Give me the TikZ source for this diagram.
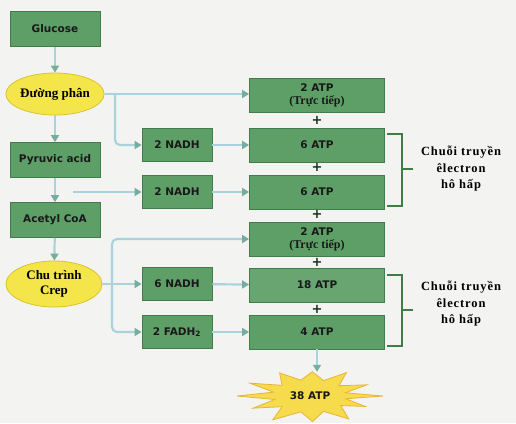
\documentclass[tikz,border=0pt]{standalone}
\usepackage{fontspec}
\setmainfont{Liberation Serif}
\newfontfamily\boxfont{DejaVu Sans}
\newfontfamily\chainfont{Liberation Serif}[LetterSpace=7]
\usetikzlibrary{arrows.meta,shapes.geometric}
\definecolor{paper}{HTML}{F3F4F1}
\definecolor{boxgreen}{HTML}{5E9F68}
\definecolor{boxedge}{HTML}{427C4C}
\definecolor{flowblue}{HTML}{A9D3DC}
\definecolor{tipteal}{HTML}{74AE9E}
\definecolor{ovalyellow}{HTML}{F4E64A}
\definecolor{ovaledge}{HTML}{D8C330}
\definecolor{bracegreen}{HTML}{3E7E46}
\definecolor{burstgold}{HTML}{F6DC4C}
\definecolor{burstedge}{HTML}{E7B43A}
\begin{document}
\begin{tikzpicture}[x=1pt,y=-1pt,every node/.style={align=center,inner sep=0pt},
stage/.style={draw=boxedge,fill=boxgreen,line width=0.8pt,minimum height=35pt,text=black!90,font=\boxfont\bfseries\fontsize{10.5}{12}\selectfont},
leftbox/.style={stage,minimum width=90pt},midbox/.style={stage,minimum width=70pt,minimum height=33pt},
atpbox/.style={stage,minimum width=135pt,minimum height=34pt},
oval/.style={ellipse,draw=ovaledge,fill=ovalyellow,line width=0.8pt,minimum width=96pt,minimum height=42pt,font=\bfseries\fontsize{13}{14}\selectfont},
flow/.style={draw=flowblue,line width=2.2pt,-{Triangle[length=7pt,width=8pt,color=tipteal]}},
brace/.style={draw=bracegreen,line width=1.8pt},
plus/.style={font=\boxfont\bfseries\fontsize{13}{13}\selectfont,text=bracegreen!40!black},
chain/.style={font=\chainfont\bfseries\fontsize{12.5}{16.5}\selectfont}]
\fill[paper](0,0)rectangle(516,423);\useasboundingbox(0,0)rectangle(516,423);
\node[leftbox](glu) at (55,29){Glucose};
\node[oval](gly) at (55,94){Đường phân};
\node[leftbox](pyr) at (55,160){Pyruvic acid};
\node[leftbox](acc) at (55,220){Acetyl CoA};
\node[oval,minimum height=46pt,font=\bfseries\fontsize{13}{15}\selectfont](krebs) at (54,284){Chu trình\\Crep};
\node[midbox](nadhA) at (177,145){2 NADH};
\node[midbox](nadhB) at (177,192){2 NADH};
\node[midbox](nadhC) at (177,284){6 NADH};
\node[midbox](fadh) at (177,332){2 FADH\textsubscript{2}};
\node[atpbox,font=\boxfont\bfseries\fontsize{10.5}{13}\selectfont](atpA) at (317,95){2 ATP\\{\rmfamily\fontsize{12}{13}\selectfont(Trực tiếp)}};
\node[atpbox](atpB) at (317,145){6 ATP};
\node[atpbox](atpC) at (317,192){6 ATP};
\node[atpbox,font=\boxfont\bfseries\fontsize{10.5}{13}\selectfont](atpD) at (317,239){2 ATP\\{\rmfamily\fontsize{12}{13}\selectfont(Trực tiếp)}};
\node[atpbox,fill=boxgreen!94!white](atpE) at (317,285){18 ATP};
\node[atpbox](atpF) at (317,332){4 ATP};
\foreach \y/\n in {120/A,167/B,214/C,262/D,309/E}{\node[plus](plus\n) at (317,\y){+};}
\draw[burstedge,fill=burstgold,line width=0.8pt,shift={(310,396)},xscale=73,yscale=27] plot coordinates {(0:1) (12:0.5) (27:0.85) (40:0.55) (58:1) (72:0.6) (88:0.95) (102:0.6) (120:1.02) (134:0.55) (150:0.9) (165:0.5) (180:1) (196:0.52) (210:0.95) (226:0.55) (244:0.95) (258:0.6) (272:0.9) (288:0.6) (300:1) (316:0.55) (332:0.88) (346:0.5)} -- cycle;
\node[minimum width=60pt,minimum height=48pt,text=black!90,font=\boxfont\bfseries\fontsize{10.5}{12}\selectfont](atp38) at (310,396){38 ATP};
\coordinate(splitA) at (115,94);\coordinate(splitB) at (73,192);\coordinate(splitC) at (112,284);
\draw[flow](glu)--(gly);\draw[flow](gly)--(pyr);\draw[flow](pyr)--(acc);\draw[flow](acc)--(krebs);
\draw[flow](gly.east)--(atpA.west|-gly.east);\draw[flow,rounded corners=5pt](splitA)|-(nadhA);
\draw[flow](splitB)--(nadhB);
\draw[draw=flowblue,line width=2.2pt](krebs.east)--(splitC);
\draw[flow,rounded corners=5pt](splitC)|-(atpD);\draw[flow](splitC)--(nadhC);\draw[flow,rounded corners=5pt](splitC)|-(fadh);
\draw[flow](nadhA)--(atpB);\draw[flow](nadhB)--(atpC);\draw[flow](nadhC)--(atpE);\draw[flow](fadh)--(atpF);
\draw[flow](atpF)--(atpF|-atp38.north);
\node[chain](chainA) at (461,169){Chuỗi truyền\\êlectron\\hô hấp};
\node[chain](chainB) at (461,304){Chuỗi truyền\\êlectron\\hô hấp};
\draw[brace](387,134)-|(402,206)--(387,206);\draw[brace](402,169)--(413,169);
\draw[brace](387,275)-|(402,346)--(387,346);\draw[brace](402,310)--(413,310);
\end{tikzpicture}
\end{document}
